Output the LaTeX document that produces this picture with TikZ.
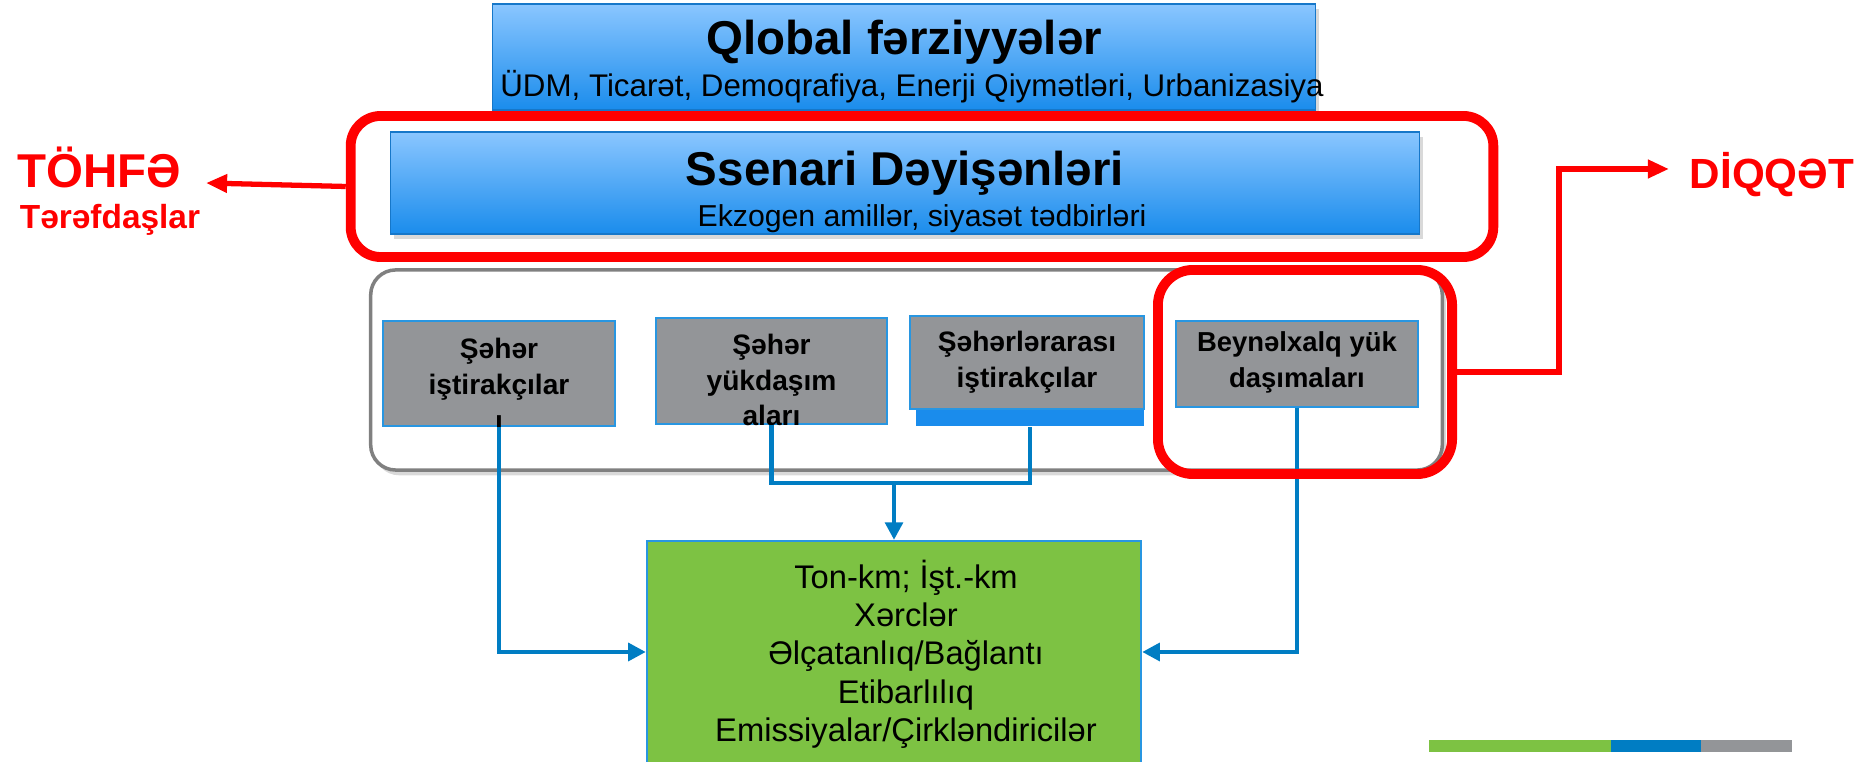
\documentclass[tikz,border=0pt]{standalone}
\usepackage{fontspec}
\setmainfont{Liberation Sans}
\usetikzlibrary{arrows.meta,shadows}

\definecolor{skytop}{RGB}{138,198,255}
\definecolor{skybot}{RGB}{26,140,236}
\definecolor{boxgray}{RGB}{147,149,152}
\definecolor{linkblue}{RGB}{0,125,195}
\definecolor{leafgreen}{RGB}{125,194,67}
\definecolor{edgeblue}{RGB}{40,150,225}

\begin{document}
\begin{tikzpicture}[x=0.01cm, y=-0.01cm,
    bluebox/.style={rectangle, draw=skybot!85!black, line width=0.4pt, top color=skytop, bottom color=skybot,
        drop shadow={opacity=0.3, shadow xshift=1pt, shadow yshift=-1.5pt}},
    redframe/.style={rectangle, draw=red, line width=2.8pt, rounded corners=0.3cm},
    actor/.style={rectangle, draw=edgeblue, line width=0.7pt, fill=boxgray},
    actortxt/.style={align=center, font=\bfseries\fontsize{8}{10.2}\selectfont},
    link/.style={draw=linkblue, line width=1.2pt},
    redarrow/.style={draw=red, line width=1.5pt, -{Triangle[length=6pt,width=5pt]}},
    redlabel/.style={text=red, font=\bfseries}
]
    \useasboundingbox (0,0) rectangle (1876,762);

    % global assumptions
    \node[bluebox, minimum width=8.23cm, minimum height=1.06cm] (glob) at (904,57) {};
    \node[font=\bfseries\fontsize{13.5}{15}\selectfont] (globtitle) at (904,42) {Qlobal fərziyyələr};
    \node[font=\fontsize{8.9}{10}\selectfont] (globsub) at (912,87) {ÜDM, Ticarət, Demoqrafiya, Enerji Qiymətləri, Urbanizasiya};

    % scenario variables
    \node[bluebox, minimum width=10.28cm, minimum height=1.02cm] (scen) at (905,183) {};
    \node[font=\bfseries\fontsize{13.5}{15}\selectfont] (scentitle) at (905,173) {Ssenari Dəyişənləri};
    \node[font=\fontsize{8.6}{10}\selectfont] (scensub) at (922,219) {Ekzogen amillər, siyasət tədbirləri};
    \node[redframe, minimum width=11.42cm, minimum height=1.41cm] (rbox1) at (922,186.5) {};

    % actors
    \node[rectangle, draw=gray, line width=1pt, fill=white, rounded corners=0.25cm,
        minimum width=10.71cm, minimum height=2cm,
        drop shadow={opacity=0.3, shadow xshift=1pt, shadow yshift=-1.5pt}] (group) at (906.5,370) {};

    \node[actor, minimum width=2.32cm, minimum height=1.05cm] (seh) at (499,373.5) {};
    \node[actortxt] (sehtxt) at (499,384) {Şəhər\\iştirakçılar\\ı};

    \node[actor, minimum width=2.31cm, minimum height=1.06cm] (yuk) at (771.5,371) {};
    \node[actortxt] (yuktxt) at (771.5,380) {Şəhər\\yükdaşım\\aları};

    \node[rectangle, fill=skybot, minimum width=2.28cm, minimum height=0.17cm, inner sep=0pt] (bar) at (1030,417.5) {};
    \node[actor, minimum width=2.34cm, minimum height=0.93cm] (arasi) at (1027,362.5) {};
    \node[actortxt] (arasitxt) at (1027,362) {Şəhərlərarası\\iştirakçılar};

    \node[actor, minimum width=2.42cm, minimum height=0.86cm] (bey) at (1297,364) {};
    \node[actortxt, font=\bfseries\fontsize{7.8}{10.2}\selectfont] (beytxt) at (1297,362) {Beynəlxalq yük\\daşımaları};

    % outputs
    \node[rectangle, draw=edgeblue, line width=0.6pt, fill=leafgreen, minimum width=4.94cm, minimum height=2.22cm] (out) at (894,652) {};
    \node[align=center, font=\fontsize{9.3}{10.9}\selectfont] (outtxt) at (906,654)
        {Ton-km; İşt.-km\\Xərclər\\Əlçatanlıq/Bağlantı\\Etibarlılıq\\Emissiyalar/Çirkləndiricilər};

    % connectors
    \coordinate (join) at (894,483);
    \draw[link, -{Triangle[length=5pt,width=5pt]}] (seh.south) |- (out.west);
    \draw[link, -{Triangle[length=5pt,width=5pt]}] (bey.south) |- (out.east);
    \draw[link] (yuk.south) |- (join) -| (bar.south);
    \draw[link, -{Triangle[length=5pt,width=5pt]}] (join) -- (out.north);

    \node[redframe, rounded corners=0.35cm, minimum width=2.94cm, minimum height=2.04cm] (rbox2) at (1305,372) {};

    % side notes
    \node[redlabel, font=\bfseries\fontsize{13.5}{15}\selectfont] (tohfe) at (99,167) {TÖHFƏ};
    \node[redlabel, font=\bfseries\fontsize{9.5}{11}\selectfont] (teref) at (110,220) {Tərəfdaşlar};
    \coordinate (tohtip) at (206,183);
    \draw[redarrow] (rbox1.west) -- (tohtip);

    \node[redlabel, font=\bfseries\fontsize{12}{14}\selectfont] (diqqet) at (1772,175) {DİQQƏT};
    \coordinate (bend) at (1559,372);
    \coordinate (diqtip) at (1669,169);
    \draw[redarrow] (rbox2.east) -- (bend) |- (diqtip);

    % bottom stripe
    \fill[leafgreen] (1429,740) rectangle (1611,752);
    \fill[linkblue] (1611,740) rectangle (1701,752);
    \fill[boxgray] (1701,740) rectangle (1792,752);
\end{tikzpicture}
\end{document}
